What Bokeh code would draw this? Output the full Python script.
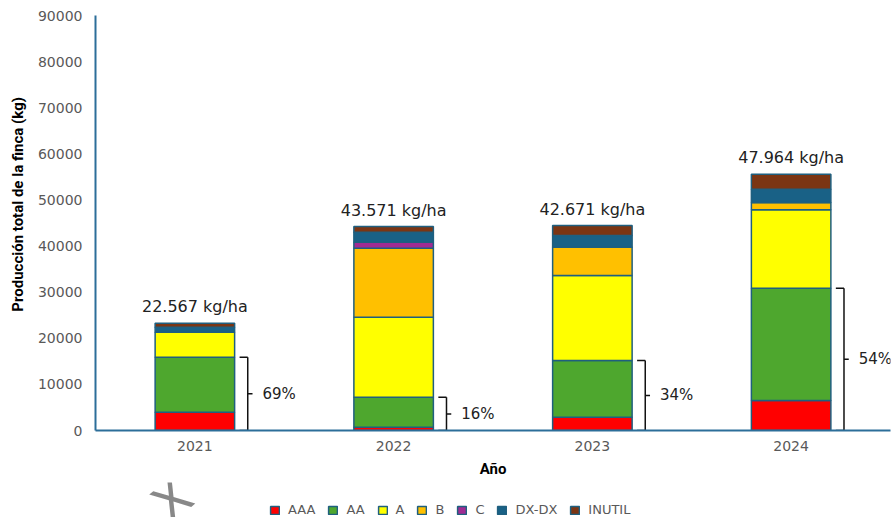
from bokeh.plotting import figure
from bokeh.layouts import column
from bokeh.models import (ColumnDataSource, FactorRange, Range1d, Legend, LegendItem,
                          FixedTicker, BasicTickFormatter, Label)
from bokeh.transform import dodge
from bokeh.core.properties import value
from bokeh.embed import file_html
from bokeh.resources import INLINE

# ---- data (kg) ----
years = ["2021", "2022", "2023", "2024"]
series = ["AAA", "AA", "A", "B", "C", "DX-DX", "INUTIL"]
AAA = [3950, 700, 2900, 6500]
AA = [11950, 6500, 12300, 24350]
A = [5400, 17370, 18400, 17000]
B = [0, 14950, 6150, 1600]
C = [0, 1300, 0, 0]
DXDX = [1100, 2150, 2550, 2850]
INUTIL = [850, 1250, 2150, 3250]
yield_labels = ["22.567 kg/ha", "43.571 kg/ha", "42.671 kg/ha", "47.964 kg/ha"]
pct_labels = ["69%", "16%", "34%", "54%"]
y_ticks = [0, 10000, 20000, 30000, 40000, 50000, 60000, 70000, 80000, 90000]

colors = ["#FF0000", "#4EA72E", "#FFFF00", "#FFC000", "#A02B93", "#196186", "#7B3513"]
border_color = "#1F5F7F"
stack_fields = ["AAA", "AA", "A", "B", "C", "DXDX", "INUTIL"]

totals = [sum(v) for v in zip(AAA, AA, A, B, C, DXDX, INUTIL)]
first_two = [a + b for a, b in zip(AAA, AA)]
mids = [v / 2 for v in first_two]

src = ColumnDataSource(dict(year=years, AAA=AAA, AA=AA, A=A, B=B, C=C, DXDX=DXDX,
                            INUTIL=INUTIL, top=totals, bt=first_two, mid=mids,
                            lab=yield_labels, pct=pct_labels))

p = figure(x_range=FactorRange(factors=years), y_range=Range1d(0, 90000),
           width=896, height=482, output_backend="svg", toolbar_location=None,
           min_border_left=95, min_border_right=6, min_border_top=15, min_border_bottom=52)
p.outline_line_color = None
p.xgrid.visible = False
p.ygrid.visible = False

p.vbar_stack(stack_fields, x="year", width=0.4, color=colors, source=src,
             line_color=border_color, line_width=1.5)

# total labels
p.text(x="year", y="top", text="lab", source=src, y_offset=-7, text_align="center",
       text_baseline="bottom", text_font=value("DejaVu Sans"), text_font_size="16px",
       text_color="#222222")

# brackets
xv = dodge("year", 0.266, range=p.x_range)
xh = dodge("year", 0.225, range=p.x_range)
xm = dodge("year", 0.29, range=p.x_range)
bk = dict(source=src, line_color="#111111", line_width=1.5)
p.segment(x0=xv, y0=0, x1=xv, y1="bt", **bk)
p.segment(x0=xh, y0=0, x1=xv, y1=0, **bk)
p.segment(x0=xh, y0="bt", x1=xv, y1="bt", **bk)
p.segment(x0=xv, y0="mid", x1=xm, y1="mid", **bk)
p.text(x=dodge("year", 0.34, range=p.x_range), y="mid", text="pct", source=src,
       text_align="left", text_baseline="middle", text_font=value("DejaVu Sans"),
       text_font_size="15px", text_color="#222222")

# axes
axis_color = "#2C6E99"
for ax in (p.xaxis[0], p.yaxis[0]):
    ax.axis_line_color = axis_color
    ax.axis_line_width = 2
    ax.major_tick_line_color = None
    ax.minor_tick_line_color = None
    ax.major_tick_out = 0
    ax.major_tick_in = 0
    ax.major_label_text_color = "#595959"
    ax.major_label_text_font = "DejaVu Sans"
    ax.major_label_text_font_size = "14px"
    ax.axis_label_text_font = "Roboto"
    ax.axis_label_text_font_style = "bold"
    ax.axis_label_text_font_size = "15px"
    ax.axis_label_text_color = "#000000"

p.yaxis.ticker = FixedTicker(ticks=y_ticks)
p.yaxis.formatter = BasicTickFormatter(use_scientific=False)
p.yaxis.axis_label = "\u00a0" * 10 + "Producción total de la finca (kg)"
p.yaxis.major_label_standoff = 13
p.yaxis.axis_label_standoff = 8
p.xaxis.axis_label = "Año"
p.xaxis.major_label_standoff = 10
p.xaxis.axis_label_standoff = 6

# ---- legend strip: same stacked bars (hidden), only to key the legend ----
leg = figure(width=896, height=35, x_range=FactorRange(factors=years),
             y_range=Range1d(-2, -1), output_backend="svg", toolbar_location=None,
             min_border=0)
leg.outline_line_color = None
leg.axis.visible = False
leg.grid.visible = False
lrs = leg.vbar_stack(stack_fields, x="year", width=0.4, color=colors, source=src,
                     line_color=border_color, line_width=1.5)
for r in lrs:
    r.visible = False
items = [LegendItem(label=n, renderers=[r]) for n, r in zip(series, lrs)]
legend = Legend(items=items, orientation="horizontal", location=(174, 0),
                glyph_width=11, glyph_height=10, label_standoff=8, spacing=12,
                label_width=0, label_height=14,
                label_text_font="DejaVu Sans", label_text_font_size="13px",
                label_text_color="#595959", border_line_color=None,
                background_fill_alpha=0, padding=2, margin=0,
                inactive_fill_alpha=0)
leg.add_layout(legend, "center")

wm = Label(x=77, y=17, x_units="screen", y_units="screen", text="X", angle=40,
           angle_units="deg", text_font="DejaVu Sans", text_font_size="50px",
           text_color="#555555", text_alpha=0.7, text_align="center",
           text_baseline="middle")
leg.add_layout(wm)

open("out.html", "w").write(file_html(column(p, leg, spacing=0), INLINE))
